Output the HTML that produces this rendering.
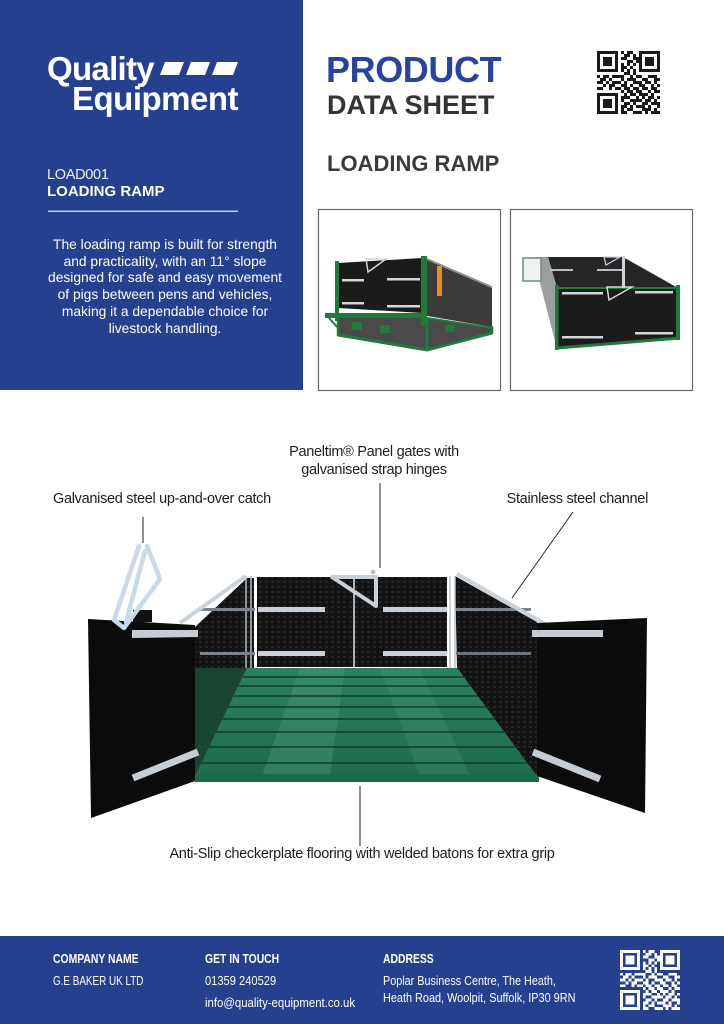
<!DOCTYPE html>
<html>
<head>
<meta charset="utf-8">
<style>
  html,body{margin:0;padding:0;}
  body{width:724px;height:1024px;overflow:hidden;background:#fff;position:relative;font-family:"Liberation Sans",sans-serif;}
  .t{position:absolute;white-space:nowrap;line-height:1;}
  .w{color:#fff;}
  .lbl{font-size:14.5px;letter-spacing:-0.3px;color:#1d1d1b;}
  .ft{font-size:12.5px;color:#fff;transform-origin:0 0;}
  .fb{font-weight:bold;}
</style>
</head>
<body>
<svg width="724" height="1024" style="position:absolute;left:0;top:0" xmlns="http://www.w3.org/2000/svg">
  <defs>
    <pattern id="tex" width="6" height="5" patternUnits="userSpaceOnUse">
      <rect width="6" height="5" fill="#131313"/>
      <rect x="1" y="1" width="3" height="2" fill="#262626"/>
    </pattern>
    <linearGradient id="floorG" x1="0" y1="0" x2="0" y2="1">
      <stop offset="0" stop-color="#2b8060"/>
      <stop offset="1" stop-color="#1e6d4d"/>
    </linearGradient>
  </defs>

  <!-- left blue panel -->
  <rect x="0" y="0" width="303" height="390" fill="#25408f"/>
  <!-- logo stripes -->
  <polygon points="165,62 184,62 179,75 160,75" fill="#fff"/>
  <polygon points="191,62 210,62 205,75 186,75" fill="#fff"/>
  <polygon points="217,62 238,62 233,75 212,75" fill="#fff"/>
  <!-- divider -->
  <rect x="48" y="210.5" width="190" height="1.5" fill="#c5cde6"/>

  <!-- top QR -->
  <svg x="597" y="51" width="63" height="63" viewBox="0 0 21 21" shape-rendering="crispEdges">
    <path fill="#1a1a1a" d="M0 0h7v1h-7zM8 0h1v1h-1zM10 0h2v1h-2zM14 0h7v1h-7zM0 1h1v1h-1zM6 1h1v1h-1zM9 1h2v1h-2zM12 1h1v1h-1zM14 1h1v1h-1zM20 1h1v1h-1zM0 2h1v1h-1zM2 2h3v1h-3zM6 2h1v1h-1zM8 2h2v1h-2zM12 2h3v1h-3zM16 2h3v1h-3zM20 2h1v1h-1zM0 3h1v1h-1zM2 3h3v1h-3zM6 3h1v1h-1zM10 3h2v1h-2zM13 3h2v1h-2zM16 3h3v1h-3zM20 3h1v1h-1zM0 4h1v1h-1zM2 4h3v1h-3zM6 4h1v1h-1zM8 4h1v1h-1zM10 4h1v1h-1zM12 4h1v1h-1zM14 4h1v1h-1zM16 4h3v1h-3zM20 4h1v1h-1zM0 5h1v1h-1zM6 5h1v1h-1zM8 5h2v1h-2zM11 5h1v1h-1zM14 5h1v1h-1zM20 5h1v1h-1zM0 6h7v1h-7zM8 6h1v1h-1zM10 6h1v1h-1zM12 6h1v1h-1zM14 6h7v1h-7zM9 7h2v1h-2zM12 7h1v1h-1zM0 8h1v1h-1zM2 8h2v1h-2zM5 8h4v1h-4zM11 8h1v1h-1zM13 8h2v1h-2zM17 8h3v1h-3zM1 9h2v1h-2zM4 9h1v1h-1zM8 9h1v1h-1zM10 9h3v1h-3zM15 9h2v1h-2zM19 9h2v1h-2zM0 10h2v1h-2zM3 10h1v1h-1zM5 10h3v1h-3zM9 10h1v1h-1zM12 10h3v1h-3zM16 10h2v1h-2zM19 10h1v1h-1zM2 11h1v1h-1zM4 11h2v1h-2zM8 11h2v1h-2zM11 11h1v1h-1zM14 11h2v1h-2zM18 11h1v1h-1zM20 11h1v1h-1zM0 12h2v1h-2zM4 12h1v1h-1zM6 12h2v1h-2zM9 12h2v1h-2zM12 12h2v1h-2zM15 12h2v1h-2zM18 12h2v1h-2zM8 13h1v1h-1zM10 13h2v1h-2zM13 13h2v1h-2zM17 13h1v1h-1zM19 13h2v1h-2zM0 14h7v1h-7zM9 14h1v1h-1zM11 14h2v1h-2zM14 14h3v1h-3zM18 14h1v1h-1zM0 15h1v1h-1zM6 15h1v1h-1zM8 15h3v1h-3zM13 15h1v1h-1zM15 15h1v1h-1zM17 15h2v1h-2zM20 15h1v1h-1zM0 16h1v1h-1zM2 16h3v1h-3zM6 16h1v1h-1zM8 16h1v1h-1zM11 16h4v1h-4zM16 16h2v1h-2zM19 16h1v1h-1zM0 17h1v1h-1zM2 17h3v1h-3zM6 17h1v1h-1zM9 17h2v1h-2zM12 17h1v1h-1zM15 17h2v1h-2zM18 17h3v1h-3zM0 18h1v1h-1zM2 18h3v1h-3zM6 18h1v1h-1zM8 18h2v1h-2zM11 18h1v1h-1zM13 18h3v1h-3zM17 18h1v1h-1zM20 18h1v1h-1zM0 19h1v1h-1zM6 19h1v1h-1zM8 19h1v1h-1zM10 19h2v1h-2zM15 19h3v1h-3zM19 19h1v1h-1zM0 20h7v1h-7zM8 20h2v1h-2zM12 20h3v1h-3zM16 20h1v1h-1zM18 20h3v1h-3z"/>
  </svg>

  <!-- product image boxes -->
  <rect x="318.5" y="209.5" width="182" height="181" fill="#fff" stroke="#6a6a6a" stroke-width="1.2"/>
  <rect x="510.5" y="209.5" width="182" height="181" fill="#fff" stroke="#6a6a6a" stroke-width="1.2"/>

  <!-- box 1 ramp -->
  <polygon points="338,318 427,318 492,327 492,333 427,350 338,335" fill="#4a4a4a"/>
  <rect x="352" y="322" width="10" height="8" fill="#1f7a3c"/>
  <rect x="380" y="325" width="10" height="8" fill="#1f7a3c"/>
  <rect x="445" y="325" width="10" height="7" fill="#1f7a3c"/>
  <polygon points="427,260 492,288 492,327 427,316" fill="#3b3b3b"/>
  <line x1="427" y1="259" x2="492" y2="287" stroke="#8a8a8a" stroke-width="1.5"/>
  <polygon points="338,263 422,258 422,313 338,308" fill="#1b1b1b"/>
  <rect x="335" y="261" width="4" height="60" fill="#1f7a3c"/>
  <rect x="421" y="256" width="6" height="70" fill="#1f7a3c"/>
  <rect x="437" y="266" width="5" height="30" fill="#e8901e"/>
  <rect x="342" y="279" width="22" height="2.5" fill="#d0d6dc"/>
  <rect x="387" y="278" width="33" height="2.5" fill="#d0d6dc"/>
  <rect x="342" y="302" width="22" height="2.5" fill="#d0d6dc"/>
  <rect x="387" y="305" width="33" height="2.5" fill="#d0d6dc"/>
  <polygon points="366,259 386,259 368,272" fill="none" stroke="#d0d6dc" stroke-width="1.5"/>
  <polygon points="325,313 427,313 427,318 325,318" fill="#1f7a3c"/>
  <line x1="329" y1="318" x2="337" y2="327" stroke="#1f7a3c" stroke-width="2"/>
  <polyline points="338,335 427,350 492,333" fill="none" stroke="#1f7a3c" stroke-width="3"/>
  <line x1="338" y1="318" x2="338" y2="336" stroke="#1f7a3c" stroke-width="2.5"/>
  <line x1="427" y1="318" x2="427" y2="350" stroke="#1f7a3c" stroke-width="3"/>
  <line x1="492" y1="326" x2="492" y2="334" stroke="#1f7a3c" stroke-width="2.5"/>
  <line x1="427" y1="318" x2="492" y2="328" stroke="#1f7a3c" stroke-width="2"/>

  <!-- box 2 ramp -->
  <polygon points="548,257 623,257 678,288 557,288" fill="#262626"/>
  <polygon points="540,257 548,257 557,288 557,349 540,283" fill="#9aa0a0"/>
  <polygon points="557,288 678,288 678,338 557,348" fill="#1b1b1b"/>
  <rect x="555" y="285" width="3.5" height="65" fill="#1f7a3c"/>
  <rect x="676" y="285" width="4" height="55" fill="#1f7a3c"/>
  <line x1="557" y1="348" x2="680" y2="338" stroke="#1f7a3c" stroke-width="3"/>
  <line x1="557" y1="288" x2="680" y2="288" stroke="#1f7a3c" stroke-width="2"/>
  <rect x="523" y="258" width="18" height="23" fill="#eef2f2" stroke="#6a8a7a" stroke-width="1.5"/>
  <rect x="562" y="292" width="41" height="2.5" fill="#d0d6dc"/>
  <rect x="635" y="291" width="38" height="2.5" fill="#d0d6dc"/>
  <rect x="562" y="336" width="41" height="2.5" fill="#d0d6dc"/>
  <rect x="635" y="332" width="38" height="2.5" fill="#d0d6dc"/>
  <rect x="550" y="269" width="23" height="2" fill="#b8bec4"/>
  <rect x="597" y="269" width="25" height="2" fill="#b8bec4"/>
  <rect x="622" y="256" width="3" height="32" fill="#cfd5da"/>
  <polygon points="607,287 632,287 609,300" fill="none" stroke="#d0d6dc" stroke-width="1.5"/>
  <polygon points="604,257 620,257 606,265" fill="none" stroke="#d0d6dc" stroke-width="1.2"/>

  <!-- MAIN PHOTO -->
  <rect x="257" y="577" width="190" height="90" fill="url(#tex)"/>
  <polygon points="195,627 247,578 254,578 254,668 247,668 195,777" fill="url(#tex)"/>
  <polygon points="195,668 247,668 195,777" fill="#1b4d38" opacity="0.85"/>
  <polygon points="455,576 537,622 537,777 457,668" fill="url(#tex)"/>
  <line x1="246" y1="576" x2="246" y2="668" stroke="#b8c0c8" stroke-width="1.5"/>
  <line x1="251" y1="576" x2="251" y2="668" stroke="#b8c0c8" stroke-width="1.5"/>
  <line x1="450" y1="576" x2="450" y2="668" stroke="#b8c0c8" stroke-width="1.5"/>
  <line x1="455" y1="576" x2="455" y2="668" stroke="#b8c0c8" stroke-width="1.5"/>
  <rect x="258" y="607" width="67" height="5" fill="#c8cfd6"/>
  <rect x="383" y="607" width="64" height="5" fill="#c8cfd6"/>
  <rect x="258" y="651" width="67" height="5" fill="#c8cfd6"/>
  <rect x="383" y="651" width="64" height="5" fill="#c8cfd6"/>
  <rect x="200" y="608" width="55" height="3" fill="#7d838a"/>
  <rect x="200" y="652" width="55" height="3" fill="#7d838a"/>
  <rect x="456" y="608" width="75" height="3" fill="#7d838a"/>
  <rect x="456" y="652" width="75" height="3" fill="#6d737a"/>
  <line x1="354" y1="577" x2="354" y2="668" stroke="#e8e8e8" stroke-width="1.5"/>
  <polygon points="332,577 376,577 376,606" fill="none" stroke="#c8d0d8" stroke-width="4" stroke-linejoin="round"/>
  <circle cx="373" cy="572" r="2.5" fill="#b8c0c8"/>
  <!-- floor -->
  <polygon points="247,668 457,668 537,776 195,776" fill="url(#floorG)"/>
  <polygon points="300,668 345,668 330,776 262,776" fill="#5fb092" opacity="0.25"/>
  <polygon points="380,668 420,668 470,776 420,776" fill="#5fb092" opacity="0.18"/>
  <g stroke="#123f2c" stroke-width="1.6">
    <line x1="243" y1="677" x2="464" y2="677"/>
    <line x1="238" y1="686" x2="470" y2="686"/>
    <line x1="234" y1="696" x2="478" y2="696"/>
    <line x1="228" y1="707" x2="486" y2="707"/>
    <line x1="222" y1="719" x2="495" y2="719"/>
    <line x1="216" y1="732" x2="504" y2="732"/>
    <line x1="209" y1="747" x2="515" y2="747"/>
    <line x1="201" y1="763" x2="527" y2="763"/>
  </g>
  <rect x="195" y="774" width="344" height="8" fill="#1c6a47"/>
  <line x1="180" y1="623" x2="246" y2="576" stroke="#c9d3dc" stroke-width="4"/>
  <line x1="457" y1="574" x2="545" y2="624" stroke="#c9d3dc" stroke-width="4"/>
  <!-- doors -->
  <polygon points="88,619 195,625 195,781 91,818" fill="#0b0b0b"/>
  <polygon points="537,623 647,618 645,813 537,776" fill="#0b0b0b"/>
  <polygon points="132,630 198,630 198,637 132,638" fill="#c5ccd4"/>
  <line x1="133" y1="778" x2="198" y2="752" stroke="#c5ccd4" stroke-width="7"/>
  <polygon points="532,630 603,630 603,637 532,637" fill="#c5ccd4"/>
  <line x1="533" y1="752" x2="600" y2="779" stroke="#c5ccd4" stroke-width="7"/>
  <!-- catch -->
  <rect x="133" y="610" width="19" height="12" fill="#111"/>
  <g fill="none" stroke="#c9d8ea" stroke-width="4.5" stroke-linejoin="round" stroke-linecap="round">
    <polyline points="139,546 114,620 124,628 160,579 147,546"/>
    <line x1="145" y1="551" x2="126" y2="622"/>
  </g>

  <!-- leader lines -->
  <g stroke="#222" stroke-width="1">
    <line x1="143" y1="517" x2="143" y2="543"/>
    <line x1="380" y1="483" x2="380" y2="568"/>
    <line x1="573" y1="512" x2="512" y2="598"/>
    <line x1="360" y1="786" x2="360" y2="846"/>
  </g>

  <!-- footer -->
  <rect x="0" y="936" width="724" height="88" fill="#25408f"/>
  <svg x="620" y="950" width="60" height="60" viewBox="0 0 21 21" shape-rendering="crispEdges">
    <path fill="#ffffff" d="M0 0h7v1h-7zM8 0h1v1h-1zM10 0h2v1h-2zM14 0h7v1h-7zM0 1h1v1h-1zM6 1h1v1h-1zM9 1h2v1h-2zM12 1h1v1h-1zM14 1h1v1h-1zM20 1h1v1h-1zM0 2h1v1h-1zM2 2h3v1h-3zM6 2h1v1h-1zM8 2h2v1h-2zM12 2h3v1h-3zM16 2h3v1h-3zM20 2h1v1h-1zM0 3h1v1h-1zM2 3h3v1h-3zM6 3h1v1h-1zM10 3h2v1h-2zM13 3h2v1h-2zM16 3h3v1h-3zM20 3h1v1h-1zM0 4h1v1h-1zM2 4h3v1h-3zM6 4h1v1h-1zM8 4h1v1h-1zM10 4h1v1h-1zM12 4h1v1h-1zM14 4h1v1h-1zM16 4h3v1h-3zM20 4h1v1h-1zM0 5h1v1h-1zM6 5h1v1h-1zM8 5h2v1h-2zM11 5h1v1h-1zM14 5h1v1h-1zM20 5h1v1h-1zM0 6h7v1h-7zM8 6h1v1h-1zM10 6h1v1h-1zM12 6h1v1h-1zM14 6h7v1h-7zM9 7h2v1h-2zM12 7h1v1h-1zM0 8h1v1h-1zM2 8h2v1h-2zM5 8h4v1h-4zM11 8h1v1h-1zM13 8h2v1h-2zM17 8h3v1h-3zM1 9h2v1h-2zM4 9h1v1h-1zM8 9h1v1h-1zM10 9h3v1h-3zM15 9h2v1h-2zM19 9h2v1h-2zM0 10h2v1h-2zM3 10h1v1h-1zM5 10h3v1h-3zM9 10h1v1h-1zM12 10h3v1h-3zM16 10h2v1h-2zM19 10h1v1h-1zM2 11h1v1h-1zM4 11h2v1h-2zM8 11h2v1h-2zM11 11h1v1h-1zM14 11h2v1h-2zM18 11h1v1h-1zM20 11h1v1h-1zM0 12h2v1h-2zM4 12h1v1h-1zM6 12h2v1h-2zM9 12h2v1h-2zM12 12h2v1h-2zM15 12h2v1h-2zM18 12h2v1h-2zM8 13h1v1h-1zM10 13h2v1h-2zM13 13h2v1h-2zM17 13h1v1h-1zM19 13h2v1h-2zM0 14h7v1h-7zM9 14h1v1h-1zM11 14h2v1h-2zM14 14h3v1h-3zM18 14h1v1h-1zM0 15h1v1h-1zM6 15h1v1h-1zM8 15h3v1h-3zM13 15h1v1h-1zM15 15h1v1h-1zM17 15h2v1h-2zM20 15h1v1h-1zM0 16h1v1h-1zM2 16h3v1h-3zM6 16h1v1h-1zM8 16h1v1h-1zM11 16h4v1h-4zM16 16h2v1h-2zM19 16h1v1h-1zM0 17h1v1h-1zM2 17h3v1h-3zM6 17h1v1h-1zM9 17h2v1h-2zM12 17h1v1h-1zM15 17h2v1h-2zM18 17h3v1h-3zM0 18h1v1h-1zM2 18h3v1h-3zM6 18h1v1h-1zM8 18h2v1h-2zM11 18h1v1h-1zM13 18h3v1h-3zM17 18h1v1h-1zM20 18h1v1h-1zM0 19h1v1h-1zM6 19h1v1h-1zM8 19h1v1h-1zM10 19h2v1h-2zM15 19h3v1h-3zM19 19h1v1h-1zM0 20h7v1h-7zM8 20h2v1h-2zM12 20h3v1h-3zM16 20h1v1h-1zM18 20h3v1h-3z"/>
  </svg>
</svg>

<!-- left panel text -->
<div class="t w fb" style="left:47px;top:52px;font-size:33px;letter-spacing:-0.7px;">Quality</div>
<div class="t w fb" style="right:486px;top:82px;font-size:33px;letter-spacing:-0.5px;">Equipment</div>
<div class="t" style="left:47px;top:167.7px;font-size:14.5px;letter-spacing:-0.3px;color:rgba(255,255,255,0.92);">LOAD001</div>
<div class="t w fb" style="left:47px;top:184.3px;font-size:15px;">LOADING RAMP</div>
<div class="w" style="position:absolute;left:30px;top:236.8px;width:270px;text-align:center;font-size:13.8px;line-height:16.8px;">The loading ramp is built for strength<br>and practicality, with an 11° slope<br>designed for safe and easy movement<br>of pigs between pens and vehicles,<br>making it a dependable choice for<br>livestock handling.</div>

<!-- header right -->
<div class="t fb" style="left:326px;top:51.5px;font-size:36px;letter-spacing:-0.4px;color:#2744a0;">PRODUCT</div>
<div class="t fb" style="left:327px;top:92.1px;font-size:27px;color:#333;">DATA SHEET</div>
<div class="t fb" style="left:327px;top:153.4px;font-size:22px;color:#3a3a3a;">LOADING RAMP</div>

<!-- diagram labels -->
<div class="lbl" style="position:absolute;left:224px;top:443px;width:300px;text-align:center;line-height:18px;">Paneltim® Panel gates with<br>galvanised strap hinges</div>
<div class="t lbl" style="left:53px;top:491.7px;">Galvanised steel up-and-over catch</div>
<div class="t lbl" style="right:76px;top:491.7px;">Stainless steel channel</div>
<div class="t lbl" style="left:62px;top:846.7px;width:600px;text-align:center;">Anti-Slip checkerplate flooring with welded batons for extra grip</div>

<!-- footer text -->
<div class="t ft fb" style="left:53px;top:953px;transform:scaleX(0.83);">COMPANY NAME</div>
<div class="t ft" style="left:53px;top:974.5px;transform:scaleX(0.79);">G.E BAKER UK LTD</div>
<div class="t ft fb" style="left:205px;top:953px;transform:scaleX(0.83);">GET IN TOUCH</div>
<div class="t ft" style="left:205px;top:974.5px;transform:scaleX(0.89);">01359 240529</div>
<div class="t ft" style="left:205px;top:997px;transform:scaleX(0.91);">info@quality-equipment.co.uk</div>
<div class="t ft fb" style="left:383px;top:953px;transform:scaleX(0.83);">ADDRESS</div>
<div class="t ft" style="left:383px;top:974.5px;transform:scaleX(0.865);">Poplar Business Centre, The Heath,</div>
<div class="t ft" style="left:383px;top:991.5px;transform:scaleX(0.87);">Heath Road, Woolpit, Suffolk, IP30 9RN</div>
</body>
</html>
